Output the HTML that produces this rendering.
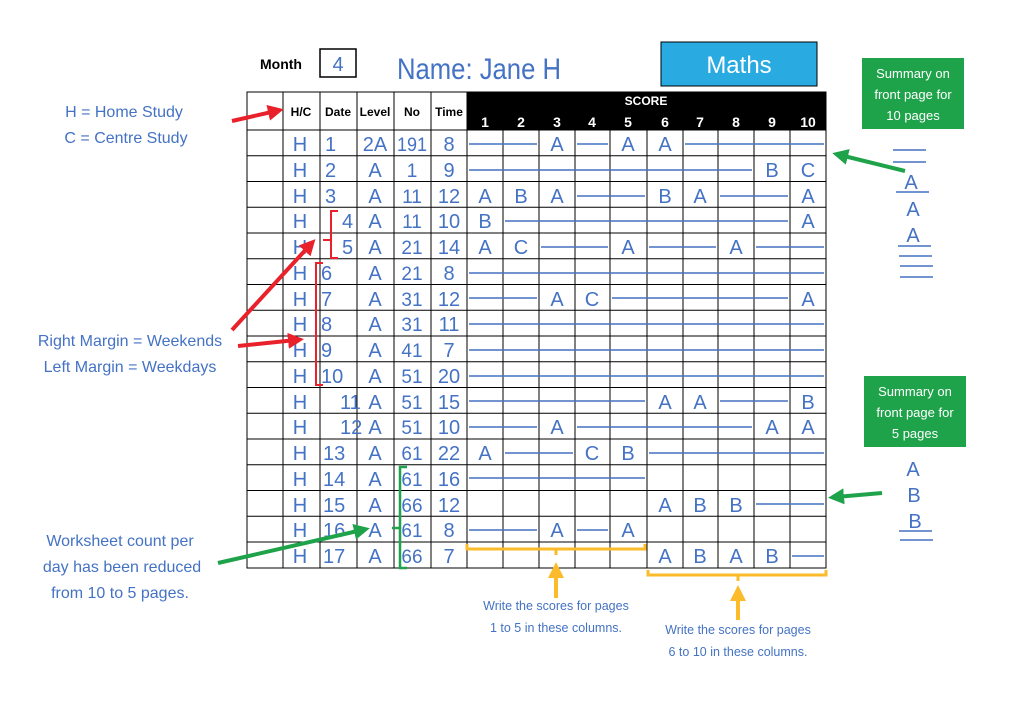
<!DOCTYPE html>
<html><head><meta charset="utf-8"><style>
html,body{margin:0;padding:0;background:#fff;}
svg{display:block;}
.h{font-family:"Liberation Sans",sans-serif;fill:#4472C4;font-size:20px;}
.hs{font-family:"Liberation Sans",sans-serif;fill:#4472C4;font-size:16px;}
.y{font-family:"Liberation Sans",sans-serif;fill:#4472C4;font-size:12.5px;}
.w{font-family:"Liberation Sans",sans-serif;fill:#fff;font-size:13px;}
.b{font-family:"Liberation Sans",sans-serif;fill:#000;font-weight:bold;}
</style></head><body>
<svg width="1024" height="705" viewBox="0 0 1024 705" xmlns="http://www.w3.org/2000/svg">
<defs>
<marker id="ar" markerWidth="4" markerHeight="4" refX="2" refY="2" orient="auto"><path d="M0,0 L4,2 L0,4 z" fill="#E8212B"/></marker>
<marker id="ag" markerWidth="4" markerHeight="4" refX="2" refY="2" orient="auto"><path d="M0,0 L4,2 L0,4 z" fill="#1FA34A"/></marker>
<marker id="ay" markerWidth="4" markerHeight="4" refX="2" refY="2" orient="auto"><path d="M0,0 L4,2 L0,4 z" fill="#FBBB2A"/></marker>
</defs>
<!-- header -->
<text x="260" y="69" class="b" style="font-size:14px">Month</text>
<rect x="320" y="49" width="36" height="28" fill="none" stroke="#000" stroke-width="1.5"/>
<text x="338" y="71" class="h" text-anchor="middle">4</text>
<text x="397" y="79" class="h" style="font-size:30px" textLength="164" lengthAdjust="spacingAndGlyphs">Name: Jane H</text>
<rect x="661" y="42" width="156" height="44" fill="#29ABE2" stroke="#000" stroke-width="1"/>
<text x="739" y="73" class="w" style="font-size:24px" text-anchor="middle">Maths</text>
<!-- green boxes -->
<rect x="862" y="58" width="102" height="71" fill="#1FA34A"/>
<text x="913" y="78" class="w" text-anchor="middle">Summary on</text>
<text x="913" y="99" class="w" text-anchor="middle">front page for</text>
<text x="913" y="120" class="w" text-anchor="middle">10 pages</text>
<rect x="864" y="376" width="102" height="71" fill="#1FA34A"/>
<text x="915" y="396" class="w" text-anchor="middle">Summary on</text>
<text x="915" y="417" class="w" text-anchor="middle">front page for</text>
<text x="915" y="438" class="w" text-anchor="middle">5 pages</text>
<!-- table -->
<rect x="467" y="92" width="359" height="38" fill="#000"/>
<g stroke="#000" stroke-width="1" fill="none">
<rect x="247" y="92" width="579" height="476"/>
<path d="M283 92V568M320 92V568M357 92V568M394 92V568M431 92V568M467 92V568M503 130V568M539 130V568M575 130V568M610 130V568M647 130V568M683 130V568M718 130V568M754 130V568M790 130V568"/>
<path d="M247 130H826M247 155.75H826M247 181.5H826M247 207.25H826M247 233H826M247 258.75H826M247 284.5H826M247 310.25H826M247 336H826M247 361.75H826M247 387.5H826M247 413.25H826M247 439H826M247 464.75H826M247 490.5H826M247 516.25H826M247 542H826"/>
</g>
<g class="b" style="font-size:12px" text-anchor="middle">
<text x="301" y="116">H/C</text><text x="338" y="116">Date</text><text x="375" y="116">Level</text><text x="412" y="116">No</text><text x="449" y="116">Time</text>
</g>
<g class="b" style="font-size:12px" text-anchor="middle">
<text x="646" y="105" style="fill:#fff">SCORE</text>
</g>
<g class="b" style="font-size:14px" text-anchor="middle">
<text x="485" y="127" style="fill:#fff">1</text><text x="521" y="127" style="fill:#fff">2</text><text x="557" y="127" style="fill:#fff">3</text><text x="592" y="127" style="fill:#fff">4</text><text x="628" y="127" style="fill:#fff">5</text><text x="665" y="127" style="fill:#fff">6</text><text x="700" y="127" style="fill:#fff">7</text><text x="736" y="127" style="fill:#fff">8</text><text x="772" y="127" style="fill:#fff">9</text><text x="808" y="127" style="fill:#fff">10</text>
</g>
<!-- left columns -->
<g class="h" text-anchor="middle">
<text x="300" y="151">H</text><text x="300" y="177">H</text><text x="300" y="203">H</text><text x="300" y="228">H</text><text x="300" y="254">H</text><text x="300" y="280">H</text><text x="300" y="306">H</text><text x="300" y="331">H</text><text x="300" y="357">H</text><text x="300" y="383">H</text><text x="300" y="409">H</text><text x="300" y="434">H</text><text x="300" y="460">H</text><text x="300" y="486">H</text><text x="300" y="512">H</text><text x="300" y="537">H</text><text x="300" y="563">H</text>
<text x="375" y="151">2A</text><text x="375" y="177">A</text><text x="375" y="203">A</text><text x="375" y="228">A</text><text x="375" y="254">A</text><text x="375" y="280">A</text><text x="375" y="306">A</text><text x="375" y="331">A</text><text x="375" y="357">A</text><text x="375" y="383">A</text><text x="375" y="409">A</text><text x="375" y="434">A</text><text x="375" y="460">A</text><text x="375" y="486">A</text><text x="375" y="512">A</text><text x="375" y="537">A</text><text x="375" y="563">A</text>
<text x="449" y="151">8</text><text x="449" y="177">9</text><text x="449" y="203">12</text><text x="449" y="228">10</text><text x="449" y="254">14</text><text x="449" y="280">8</text><text x="449" y="306">12</text><text x="449" y="331">11</text><text x="449" y="357">7</text><text x="449" y="383">20</text><text x="449" y="409">15</text><text x="449" y="434">10</text><text x="449" y="460">22</text><text x="449" y="486">16</text><text x="449" y="512">12</text><text x="449" y="537">8</text><text x="449" y="563">7</text>
</g>
<g class="h" text-anchor="middle" style="font-size:19px">
<text x="412" y="151" textLength="30" lengthAdjust="spacingAndGlyphs">191</text><text x="412" y="177">1</text><text x="412" y="203">11</text><text x="412" y="228">11</text><text x="412" y="254">21</text><text x="412" y="280">21</text><text x="412" y="306">31</text><text x="412" y="331">31</text><text x="412" y="357">41</text><text x="412" y="383">51</text><text x="412" y="409">51</text><text x="412" y="434">51</text><text x="412" y="460">61</text><text x="412" y="486">61</text><text x="412" y="512">66</text><text x="412" y="537">61</text><text x="412" y="563">66</text>
</g>
<g class="h">
<text x="325" y="151">1</text><text x="325" y="177">2</text><text x="325" y="203">3</text>
<text x="342" y="228">4</text><text x="342" y="254">5</text>
<text x="321" y="280">6</text><text x="321" y="306">7</text><text x="321" y="331">8</text><text x="321" y="357">9</text><text x="321" y="383">10</text>
<text x="340" y="409">11</text><text x="340" y="434">12</text>
<text x="323" y="460">13</text><text x="323" y="486">14</text><text x="323" y="512">15</text><text x="323" y="537">16</text><text x="323" y="563">17</text>
</g>
<!-- score lines -->
<g stroke="#4472C4" stroke-width="1.5">
<path d="M469 144H537M577 144H608M685 144H824"/>
<path d="M469 170H752"/>
<path d="M577 196H645M720 196H788"/>
<path d="M505 221H788"/>
<path d="M541 247H608M649 247H716M756 247H824"/>
<path d="M469 273H824"/>
<path d="M469 298H537M612 298H788"/>
<path d="M469 324H824M469 350H824M469 376H824"/>
<path d="M469 401H645M720 401H788"/>
<path d="M469 427H537M577 427H752"/>
<path d="M505 453H573M649 453H824"/>
<path d="M469 478H645"/>
<path d="M756 504H824"/>
<path d="M469 530H537M577 530H608"/>
<path d="M792 556H824"/>
</g>
<g class="h" text-anchor="middle">
<text x="557" y="151">A</text><text x="628" y="151">A</text><text x="665" y="151">A</text>
<text x="772" y="177">B</text><text x="808" y="177">C</text>
<text x="485" y="203">A</text><text x="521" y="203">B</text><text x="557" y="203">A</text><text x="665" y="203">B</text><text x="700" y="203">A</text><text x="808" y="203">A</text>
<text x="485" y="228">B</text><text x="808" y="228">A</text>
<text x="485" y="254">A</text><text x="521" y="254">C</text><text x="628" y="254">A</text><text x="736" y="254">A</text>
<text x="557" y="306">A</text><text x="592" y="306">C</text><text x="808" y="306">A</text>
<text x="665" y="409">A</text><text x="700" y="409">A</text><text x="808" y="409">B</text>
<text x="557" y="434">A</text><text x="772" y="434">A</text><text x="808" y="434">A</text>
<text x="485" y="460">A</text><text x="592" y="460">C</text><text x="628" y="460">B</text>
<text x="665" y="512">A</text><text x="700" y="512">B</text><text x="736" y="512">B</text>
<text x="557" y="537">A</text><text x="628" y="537">A</text>
<text x="665" y="563">A</text><text x="700" y="563">B</text><text x="736" y="563">A</text><text x="772" y="563">B</text>
</g>
<!-- brackets -->
<g fill="none" stroke-width="2">
<path d="M338 211H331V240H323M331 240V258H338" stroke="#E8212B"/>
<path d="M323 263H316V385H323" stroke="#E8212B"/>
<path d="M407 467H400V568H407M400 528H392" stroke="#1FA34A" stroke-width="2.5"/>
<path d="M467 544V549H645V544M556 549V555" stroke="#FBBB2A" stroke-width="3"/>
<path d="M648 570V575H826V570M738 575V581" stroke="#FBBB2A" stroke-width="3"/>
</g>
<!-- arrows -->
<g stroke-width="4" fill="none">
<line x1="232" y1="121" x2="276" y2="111" stroke="#E8212B" marker-end="url(#ar)"/>
<line x1="232" y1="330" x2="310" y2="245" stroke="#E8212B" marker-end="url(#ar)"/>
<line x1="238" y1="346" x2="296" y2="340" stroke="#E8212B" marker-end="url(#ar)"/>
<line x1="905" y1="171" x2="840" y2="155" stroke="#1FA34A" marker-end="url(#ag)"/>
<line x1="882" y1="493" x2="836" y2="497" stroke="#1FA34A" marker-end="url(#ag)"/>
<line x1="218" y1="563" x2="362" y2="530" stroke="#1FA34A" marker-end="url(#ag)"/>
<line x1="556" y1="598" x2="556" y2="570" stroke="#FBBB2A" marker-end="url(#ay)"/>
<line x1="738" y1="620" x2="738" y2="593" stroke="#FBBB2A" marker-end="url(#ay)"/>
</g>
<!-- annotations -->
<g class="hs" text-anchor="middle">
<text x="124" y="117">H = Home Study</text>
<text x="126" y="143">C = Centre Study</text>
<text x="130" y="346">Right Margin = Weekends</text>
<text x="130" y="372">Left Margin = Weekdays</text>
<text x="120" y="546">Worksheet count per</text>
<text x="122" y="572">day has been reduced</text>
<text x="120" y="598">from 10 to 5 pages.</text>
</g>
<g class="y" text-anchor="middle">
<text x="556" y="610">Write the scores for pages</text>
<text x="556" y="632">1 to 5 in these columns.</text>
<text x="738" y="634">Write the scores for pages</text>
<text x="738" y="656">6 to 10 in these columns.</text>
</g>
<!-- summaries -->
<g stroke="#4472C4" stroke-width="1.5">
<path d="M893 150H926M893 162H926M896 192H929M898 246H931M899 256H932M900 266H933M900 277H933"/>
<path d="M899 531H932M900 540H933"/>
</g>
<g class="h" text-anchor="middle">
<text x="911" y="189">A</text><text x="913" y="216">A</text><text x="913" y="242">A</text>
<text x="913" y="476">A</text><text x="914" y="502">B</text><text x="915" y="528">B</text>
</g>
</svg>
</body></html>
